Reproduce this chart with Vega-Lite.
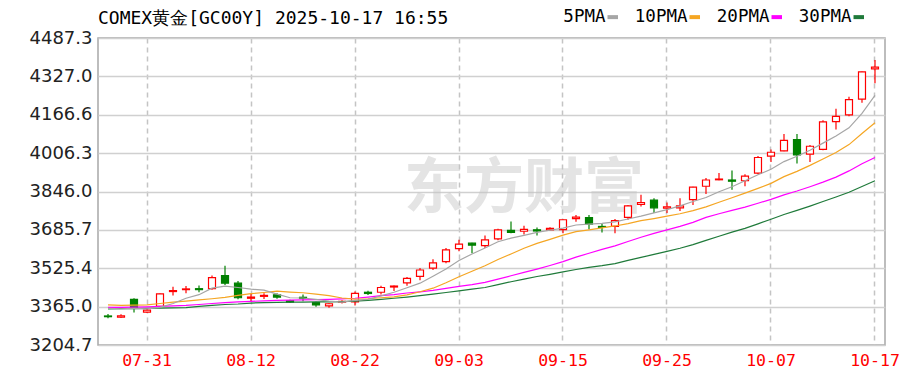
{
  "$schema": "https://vega.github.io/schema/vega-lite/v6.json",
  "width": 787,
  "height": 307,
  "autosize": {"type": "none"},
  "padding": {"left": 98, "top": 38, "right": 16, "bottom": 30},
  "background": "white",
  "title": {"text": "COMEX黄金[GC00Y] 2025-10-17 16:55", "anchor": "start", "frame": "group", "font": "DejaVu Sans Mono", "fontSize": 18, "fontWeight": "normal", "color": "#000000", "offset": -20},
  "config": {
    "view": {"stroke": "#a8a8a8", "strokeWidth": 1.5},
    "axisY": {"labelFont": "DejaVu Sans", "labelFontSize": 18, "labelColor": "#222222", "labelPadding": 6, "labelOverlap": false, "ticks": false, "domain": false, "gridColor": "#d0d0d0", "gridWidth": 1.5},
    "axisX": {"labelFont": "DejaVu Sans Mono", "labelFontSize": 16.5, "labelColor": "#ff0000", "labelPadding": 7, "labelOverlap": false, "ticks": false, "domain": false, "labelAngle": 0, "gridColor": "#c4c4c4", "gridWidth": 1.5, "gridDash": [5, 4]}
  },
  "data": {"values": [
    {"d": "07-28", "o": 3326, "h": 3334, "l": 3316, "c": 3323, "5PMA": 3358, "10PMA": 3372, "20PMA": 3362, "30PMA": 3356},
    {"d": "07-29", "o": 3321, "h": 3333, "l": 3317, "c": 3327, "5PMA": 3356, "10PMA": 3370, "20PMA": 3362, "30PMA": 3357},
    {"d": "07-30", "o": 3395, "h": 3400, "l": 3340, "c": 3362, "5PMA": 3358, "10PMA": 3371, "20PMA": 3363, "30PMA": 3357},
    {"d": "07-31", "o": 3342, "h": 3356, "l": 3338, "c": 3350, "5PMA": 3356, "10PMA": 3372, "20PMA": 3364, "30PMA": 3358},
    {"d": "08-01", "o": 3366, "h": 3420, "l": 3360, "c": 3418, "5PMA": 3362, "10PMA": 3378, "20PMA": 3366, "30PMA": 3359},
    {"d": "08-04", "o": 3428, "h": 3448, "l": 3412, "c": 3432, "5PMA": 3378, "10PMA": 3384, "20PMA": 3368, "30PMA": 3360},
    {"d": "08-05", "o": 3436, "h": 3451, "l": 3421, "c": 3439, "5PMA": 3400, "10PMA": 3388, "20PMA": 3370, "30PMA": 3361},
    {"d": "08-06", "o": 3440, "h": 3453, "l": 3425, "c": 3436, "5PMA": 3415, "10PMA": 3393, "20PMA": 3374, "30PMA": 3366},
    {"d": "08-07", "o": 3440, "h": 3495, "l": 3436, "c": 3486, "5PMA": 3442, "10PMA": 3398, "20PMA": 3378, "30PMA": 3370},
    {"d": "08-08", "o": 3495, "h": 3536, "l": 3455, "c": 3463, "5PMA": 3451, "10PMA": 3404, "20PMA": 3382, "30PMA": 3374},
    {"d": "08-11", "o": 3463, "h": 3472, "l": 3396, "c": 3402, "5PMA": 3445, "10PMA": 3412, "20PMA": 3385, "30PMA": 3376},
    {"d": "08-12", "o": 3400, "h": 3418, "l": 3386, "c": 3405, "5PMA": 3438, "10PMA": 3419, "20PMA": 3387, "30PMA": 3380},
    {"d": "08-13", "o": 3408, "h": 3421, "l": 3397, "c": 3412, "5PMA": 3434, "10PMA": 3424, "20PMA": 3389, "30PMA": 3382},
    {"d": "08-14", "o": 3414, "h": 3421, "l": 3398, "c": 3405, "5PMA": 3417, "10PMA": 3430, "20PMA": 3391, "30PMA": 3383},
    {"d": "08-15", "o": 3390, "h": 3394, "l": 3380, "c": 3384, "5PMA": 3402, "10PMA": 3426, "20PMA": 3392, "30PMA": 3384},
    {"d": "08-18", "o": 3404, "h": 3416, "l": 3388, "c": 3400, "5PMA": 3401, "10PMA": 3423, "20PMA": 3393, "30PMA": 3384},
    {"d": "08-19", "o": 3382, "h": 3385, "l": 3364, "c": 3372, "5PMA": 3395, "10PMA": 3417, "20PMA": 3394, "30PMA": 3385},
    {"d": "08-20", "o": 3368, "h": 3380, "l": 3360, "c": 3377, "5PMA": 3388, "10PMA": 3411, "20PMA": 3395, "30PMA": 3385},
    {"d": "08-21", "o": 3384, "h": 3392, "l": 3378, "c": 3387, "5PMA": 3384, "10PMA": 3401, "20PMA": 3397, "30PMA": 3386},
    {"d": "08-22", "o": 3385, "h": 3428, "l": 3370, "c": 3420, "5PMA": 3391, "10PMA": 3396, "20PMA": 3400, "30PMA": 3388},
    {"d": "08-25", "o": 3425, "h": 3431, "l": 3414, "c": 3420, "5PMA": 3395, "10PMA": 3398, "20PMA": 3405, "30PMA": 3391},
    {"d": "08-26", "o": 3425, "h": 3452, "l": 3416, "c": 3445, "5PMA": 3410, "10PMA": 3402, "20PMA": 3411, "30PMA": 3395},
    {"d": "08-27", "o": 3447, "h": 3453, "l": 3430, "c": 3451, "5PMA": 3425, "10PMA": 3406, "20PMA": 3415, "30PMA": 3400},
    {"d": "08-28", "o": 3464, "h": 3489, "l": 3452, "c": 3483, "5PMA": 3444, "10PMA": 3414, "20PMA": 3422, "30PMA": 3405},
    {"d": "08-29", "o": 3491, "h": 3526, "l": 3475, "c": 3518, "5PMA": 3463, "10PMA": 3427, "20PMA": 3427, "30PMA": 3411},
    {"d": "09-01", "o": 3526, "h": 3563, "l": 3518, "c": 3548, "5PMA": 3492, "10PMA": 3442, "20PMA": 3433, "30PMA": 3417},
    {"d": "09-02", "o": 3553, "h": 3610, "l": 3546, "c": 3602, "5PMA": 3522, "10PMA": 3465, "20PMA": 3441, "30PMA": 3424},
    {"d": "09-03", "o": 3607, "h": 3644, "l": 3596, "c": 3626, "5PMA": 3558, "10PMA": 3490, "20PMA": 3450, "30PMA": 3431},
    {"d": "09-04", "o": 3630, "h": 3632, "l": 3588, "c": 3622, "5PMA": 3585, "10PMA": 3513, "20PMA": 3457, "30PMA": 3438},
    {"d": "09-05", "o": 3620, "h": 3662, "l": 3610, "c": 3644, "5PMA": 3610, "10PMA": 3536, "20PMA": 3466, "30PMA": 3445},
    {"d": "09-08", "o": 3648, "h": 3690, "l": 3642, "c": 3686, "5PMA": 3636, "10PMA": 3562, "20PMA": 3480, "30PMA": 3457},
    {"d": "09-09", "o": 3684, "h": 3721, "l": 3672, "c": 3675, "5PMA": 3651, "10PMA": 3585, "20PMA": 3494, "30PMA": 3469},
    {"d": "09-10", "o": 3680, "h": 3703, "l": 3666, "c": 3688, "5PMA": 3663, "10PMA": 3609, "20PMA": 3508, "30PMA": 3480},
    {"d": "09-11", "o": 3686, "h": 3696, "l": 3662, "c": 3681, "5PMA": 3675, "10PMA": 3629, "20PMA": 3522, "30PMA": 3491},
    {"d": "09-12", "o": 3686, "h": 3697, "l": 3684, "c": 3692, "5PMA": 3684, "10PMA": 3646, "20PMA": 3537, "30PMA": 3500},
    {"d": "09-15", "o": 3687, "h": 3730, "l": 3672, "c": 3728, "5PMA": 3693, "10PMA": 3664, "20PMA": 3553, "30PMA": 3510},
    {"d": "09-16", "o": 3733, "h": 3748, "l": 3720, "c": 3739, "5PMA": 3706, "10PMA": 3678, "20PMA": 3572, "30PMA": 3520},
    {"d": "09-17", "o": 3737, "h": 3748, "l": 3688, "c": 3710, "5PMA": 3710, "10PMA": 3686, "20PMA": 3588, "30PMA": 3529},
    {"d": "09-18", "o": 3700, "h": 3711, "l": 3675, "c": 3696, "5PMA": 3713, "10PMA": 3694, "20PMA": 3604, "30PMA": 3536},
    {"d": "09-19", "o": 3700, "h": 3731, "l": 3672, "c": 3724, "5PMA": 3719, "10PMA": 3702, "20PMA": 3619, "30PMA": 3545},
    {"d": "09-22", "o": 3738, "h": 3790, "l": 3728, "c": 3786, "5PMA": 3731, "10PMA": 3712, "20PMA": 3637, "30PMA": 3558},
    {"d": "09-23", "o": 3792, "h": 3832, "l": 3783, "c": 3800, "5PMA": 3743, "10PMA": 3724, "20PMA": 3655, "30PMA": 3571},
    {"d": "09-24", "o": 3810, "h": 3818, "l": 3756, "c": 3778, "5PMA": 3757, "10PMA": 3733, "20PMA": 3671, "30PMA": 3583},
    {"d": "09-25", "o": 3776, "h": 3800, "l": 3756, "c": 3782, "5PMA": 3770, "10PMA": 3743, "20PMA": 3686, "30PMA": 3596},
    {"d": "09-26", "o": 3778, "h": 3818, "l": 3765, "c": 3786, "5PMA": 3786, "10PMA": 3753, "20PMA": 3700, "30PMA": 3609},
    {"d": "09-29", "o": 3812, "h": 3866, "l": 3790, "c": 3864, "5PMA": 3804, "10PMA": 3766, "20PMA": 3717, "30PMA": 3624},
    {"d": "09-30", "o": 3868, "h": 3902, "l": 3836, "c": 3894, "5PMA": 3821, "10PMA": 3782, "20PMA": 3738, "30PMA": 3642},
    {"d": "10-01", "o": 3895, "h": 3923, "l": 3893, "c": 3898, "5PMA": 3845, "10PMA": 3801, "20PMA": 3753, "30PMA": 3659},
    {"d": "10-02", "o": 3894, "h": 3934, "l": 3853, "c": 3889, "5PMA": 3866, "10PMA": 3820, "20PMA": 3767, "30PMA": 3676},
    {"d": "10-03", "o": 3891, "h": 3918, "l": 3868, "c": 3910, "5PMA": 3891, "10PMA": 3839, "20PMA": 3781, "30PMA": 3692},
    {"d": "10-06", "o": 3923, "h": 3994, "l": 3918, "c": 3988, "5PMA": 3916, "10PMA": 3859, "20PMA": 3797, "30PMA": 3711},
    {"d": "10-07", "o": 3994, "h": 4021, "l": 3969, "c": 4010, "5PMA": 3939, "10PMA": 3880, "20PMA": 3813, "30PMA": 3730},
    {"d": "10-08", "o": 4016, "h": 4086, "l": 4014, "c": 4060, "5PMA": 3971, "10PMA": 3908, "20PMA": 3832, "30PMA": 3750},
    {"d": "10-09", "o": 4063, "h": 4086, "l": 3963, "c": 3999, "5PMA": 3993, "10PMA": 3930, "20PMA": 3848, "30PMA": 3767},
    {"d": "10-10", "o": 4002, "h": 4040, "l": 3969, "c": 4035, "5PMA": 4018, "10PMA": 3955, "20PMA": 3866, "30PMA": 3785},
    {"d": "10-13", "o": 4022, "h": 4144, "l": 4018, "c": 4137, "5PMA": 4048, "10PMA": 3982, "20PMA": 3885, "30PMA": 3804},
    {"d": "10-14", "o": 4138, "h": 4192, "l": 4105, "c": 4160, "5PMA": 4078, "10PMA": 4009, "20PMA": 3906, "30PMA": 3823},
    {"d": "10-15", "o": 4166, "h": 4242, "l": 4160, "c": 4230, "5PMA": 4112, "10PMA": 4042, "20PMA": 3932, "30PMA": 3843},
    {"d": "10-16", "o": 4232, "h": 4347, "l": 4217, "c": 4346, "5PMA": 4172, "10PMA": 4088, "20PMA": 3962, "30PMA": 3867},
    {"d": "10-17", "o": 4358, "h": 4395, "l": 4298, "c": 4366, "5PMA": 4248, "10PMA": 4133, "20PMA": 3988, "30PMA": 3891}
  ]},
  "encoding": {
    "x": {
      "field": "d", "type": "ordinal", "sort": "ascending", "title": null,
      "scale": {"type": "band", "paddingInner": 0, "paddingOuter": 0.27},
      "axis": {"values": ["07-31", "08-12", "08-22", "09-03", "09-15", "09-25", "10-07", "10-17"], "grid": true, "bandPosition": 0.5}
    }
  },
  "layer": [
    {
      "data": {"values": [{"t": "东方财富"}]},
      "mark": {"type": "text", "font": "Noto Sans CJK SC", "fontWeight": "bold", "fontSize": 60, "color": "#c4c4c4", "opacity": 0.45, "align": "center", "baseline": "middle"},
      "encoding": {
        "x": {"datum": "09-10", "type": "ordinal", "sort": "ascending"},
        "y": {"datum": 3854, "type": "quantitative", "title": null, "scale": {"domain": [3204.7, 4487.3], "nice": false, "zero": false}},
        "text": {"field": "t"}
      }
    },
    {
      "mark": {"type": "rule", "strokeWidth": 1.2},
      "encoding": {
        "y": {"field": "l", "type": "quantitative", "title": null, "scale": {"domain": [3204.7, 4487.3], "nice": false, "zero": false},
              "axis": {"values": [3204.7, 3365.0, 3525.4, 3685.7, 3846.0, 4006.3, 4166.6, 4327.0, 4487.3], "tickCount": 20, "format": ".1f", "grid": true}},
        "y2": {"field": "h"},
        "stroke": {"condition": {"test": "datum.c >= datum.o", "value": "#ff0000"}, "value": "#008000"}
      }
    },
    {
      "mark": {"type": "bar", "width": 7, "strokeWidth": 1.2},
      "encoding": {
        "y": {"field": "o", "type": "quantitative", "title": null, "scale": {"domain": [3204.7, 4487.3], "nice": false, "zero": false}},
        "y2": {"field": "c"},
        "fill": {"condition": {"test": "datum.c >= datum.o", "value": "#ffffff"}, "value": "#008000"},
        "stroke": {"condition": {"test": "datum.c >= datum.o", "value": "#ff0000"}, "value": "#008000"}
      }
    },
    {
      "transform": [{"fold": ["30PMA", "20PMA", "10PMA", "5PMA"], "as": ["series", "v"]}],
      "mark": {"type": "line", "strokeWidth": 1.2},
      "encoding": {
        "y": {"field": "v", "type": "quantitative", "title": null, "scale": {"domain": [3204.7, 4487.3], "nice": false, "zero": false}},
        "color": {
          "field": "series", "type": "nominal",
          "scale": {"domain": ["5PMA", "10PMA", "20PMA", "30PMA"], "range": ["#a6a6a6", "#f5a623", "#ff00ff", "#1f7a3a"]},
          "legend": {
            "orient": "none", "legendX": 506, "legendY": -30, "direction": "horizontal", "columns": 4, "title": null,
            "symbolType": "stroke", "symbolSize": 110, "symbolStrokeWidth": 4,
            "labelFont": "DejaVu Sans Mono", "labelFontSize": 17.5, "labelColor": "#000000",
            "labelAlign": "right", "labelOffset": -16, "columnPadding": 8
          }
        }
      }
    }
  ]
}
